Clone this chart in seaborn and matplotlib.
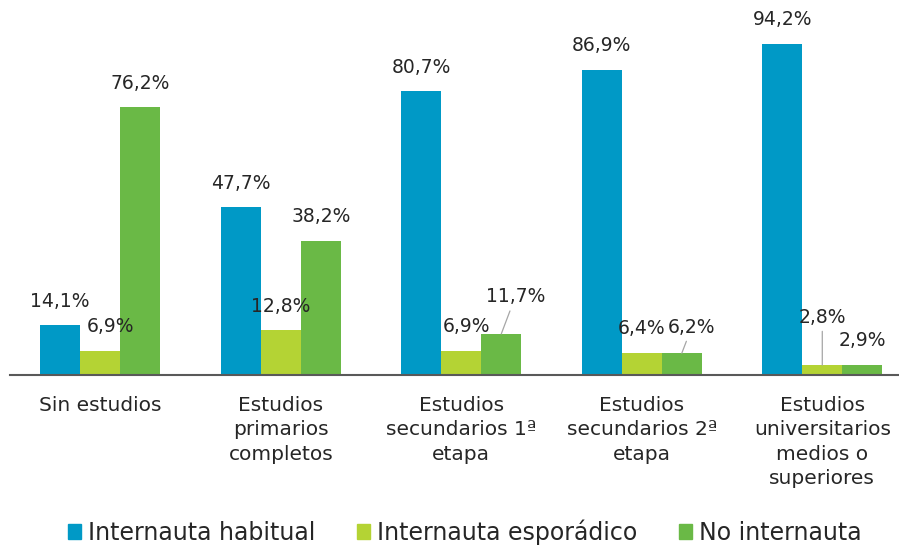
import numpy as np
import pandas as pd
import matplotlib
matplotlib.use('Agg')
import matplotlib.pyplot as plt
import seaborn as sns

# Data (%)
categories = ['Sin estudios',
              'Estudios\nprimarios\ncompletos',
              'Estudios\nsecundarios 1ª\netapa',
              'Estudios\nsecundarios 2ª\netapa',
              'Estudios\nuniversitarios\nmedios o\nsuperiores']
series = ['Internauta habitual', 'Internauta esporádico', 'No internauta']
habitual = [14.1, 47.7, 80.7, 86.9, 94.2]
esporadico = [6.9, 12.8, 6.9, 6.4, 2.8]
no_internauta = [76.2, 38.2, 11.7, 6.2, 2.9]

colors = ['#0099C6', '#B4D334', '#6AB946']
text_color = '#262626'

# label nudges in pixels (series, category) -> (dx, dy, leader line)
label_offsets = {
    (1, 0): (10, 24, False),
    (1, 2): (5, 24, False),
    (2, 2): (14, 37, True),
    (2, 3): (10, 26, True),
    (1, 4): (0, 48, True),
}

# Build long-form table
values = [habitual, esporadico, no_internauta]
df = pd.DataFrame({
    'categoria': np.tile(categories, len(series)),
    'serie': np.repeat(series, len(categories)),
    'valor': np.concatenate(values),
})

sns.set_style('white')
plt.rcParams['font.family'] = ['DejaVu Sans']

fig = plt.figure(figsize=(8.99, 5.48), dpi=100)
ax = fig.add_axes([10 / 899, 173 / 548, 889 / 899, 351.4 / 548])

sns.barplot(data=df, x='categoria', y='valor', hue='serie', hue_order=series,
            order=categories, palette=colors, width=0.665, saturation=1,
            linewidth=0, errorbar=None, ax=ax)

ax.set_xlim(-0.5, 4.425)
ax.set_ylim(0, 100)
ax.set_xlabel('')
ax.set_ylabel('')
ax.set_yticks([])
for side in ['top', 'left', 'right']:
    ax.spines[side].set_visible(False)
ax.spines['bottom'].set_color('#595959')
ax.spines['bottom'].set_linewidth(1.5)
ax.tick_params(axis='x', length=0, pad=15, labelsize=14.5, colors=text_color)
plt.setp(ax.get_xticklabels(), linespacing=1.37, ha='center')

# Value labels above bars
for s, container in enumerate(ax.containers):
    for c, bar in enumerate(container):
        h = bar.get_height()
        x = bar.get_x() + bar.get_width() / 2
        dx, dy, leader = label_offsets.get((s, c), (0, 24, False))
        label = f'{h:.1f}%'.replace('.', ',')
        if leader:
            ax.annotate(label, xy=(x, h), xytext=(dx, dy), textcoords='offset pixels',
                        ha='center', va='center', fontsize=13.5, color=text_color,
                        arrowprops=dict(arrowstyle='-', color='#A6A6A6', lw=0.9,
                                        shrinkA=1, shrinkB=0))
        else:
            ax.annotate(label, xy=(x, h), xytext=(dx, dy), textcoords='offset pixels',
                        ha='center', va='center', fontsize=13.5, color=text_color)

# Legend at the bottom
if ax.get_legend() is not None:
    ax.get_legend().remove()
handles = [plt.Rectangle((0, 0), 1, 1, color=col) for col in colors]
leg = fig.legend(handles, series, loc='center', bbox_to_anchor=(0.517, 1 - 532 / 548),
                 ncol=3, frameon=False, fontsize=17, handlelength=0.55,
                 handleheight=0.55, handletextpad=0.3, columnspacing=1.75)
for t in leg.get_texts():
    t.set_color(text_color)

fig.savefig('out.png', dpi=100)
